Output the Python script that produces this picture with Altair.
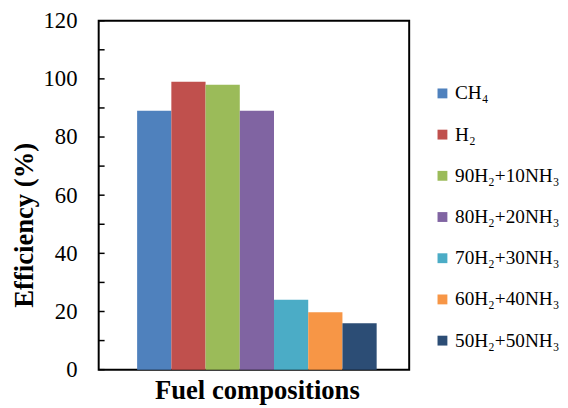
import altair as alt
import pandas as pd

series = ["CH₄", "H₂", "90H₂+10NH₃", "80H₂+20NH₃", "70H₂+30NH₃", "60H₂+40NH₃", "50H₂+50NH₃"]
values = [89, 99, 98, 89, 24, 19.7, 16]
colors = ["#4F81BD", "#C0504D", "#9BBB59", "#8064A2", "#4BACC6", "#F79646", "#2C4D75"]
major_ticks = [0, 20, 40, 60, 80, 100, 120]
minor_ticks = [10, 30, 50, 70, 90, 110]

FONT = "Liberation Serif"

df = pd.DataFrame({"series": series, "value": values})
ticks_df = pd.DataFrame({"t": major_ticks + minor_ticks})

yscale = alt.Scale(domain=[0, 120], nice=False)

bars = alt.Chart(df).mark_bar().encode(
    x=alt.X("series:N", sort=series,
            scale=alt.Scale(paddingInner=0, paddingOuter=0, range=[39, 282]),
            axis=alt.Axis(labels=False, ticks=False, domain=False,
                          title="Fuel compositions", titleFont=FONT,
                          titleFontSize=27, titleFontWeight="bold",
                          titleColor="black", titlePadding=8)),
    y=alt.Y("value:Q", scale=yscale,
            axis=alt.Axis(values=major_ticks, ticks=False, domain=False, grid=False,
                          labelFont=FONT, labelFontSize=23, labelColor="black",
                          labelPadding=22,
                          title="Efficiency (%)", titleFont=FONT, titleFontSize=27,
                          titleFontWeight="bold", titleColor="black",
                          titleAngle=270, titleAlign="center", titleBaseline="middle",
                          titleX=-75, titleY=207)),
    color=alt.Color("series:N", sort=series,
                    scale=alt.Scale(domain=series, range=colors),
                    legend=alt.Legend(title=None, orient="none", legendX=339, legendY=64,
                                      symbolType="square", symbolSize=100,
                                      symbolStrokeWidth=0, labelFont=FONT,
                                      labelFontSize=19.5, labelColor="black",
                                      labelOffset=3, rowPadding=20.8, padding=0,
                                      labelLimit=300)),
)

tick_marks = alt.Chart(ticks_df).mark_rule(color="black", strokeWidth=1.5).encode(
    y=alt.Y("t:Q", scale=yscale),
    x=alt.value(0),
    x2=alt.value(6),
)

chart = alt.layer(bars, tick_marks).properties(
    width=315, height=354,
    autosize=alt.AutoSizeParams(type="none"),
    padding={"left": 92, "top": 10, "right": 153, "bottom": 36},
).configure(
    background="white", font=FONT
).configure_view(
    stroke="black", strokeWidth=2
).configure_axis(
    labelFont=FONT, titleFont=FONT
).configure_legend(
    labelFont=FONT
)

chart.save("out.html", embed_options={"renderer": "svg", "actions": False})
